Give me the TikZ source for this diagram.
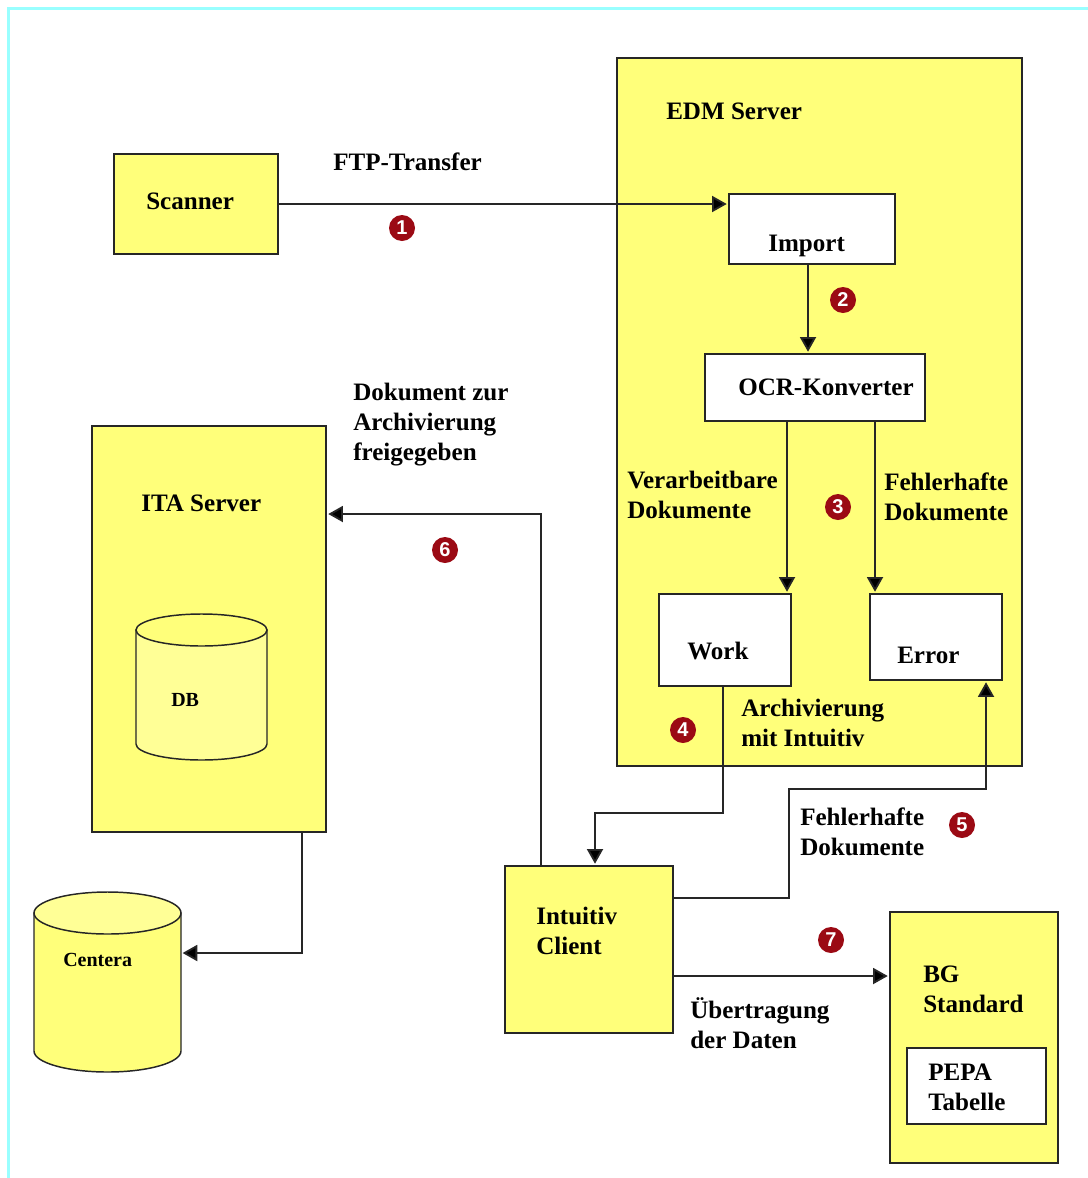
\documentclass[tikz,border=0pt]{standalone}
\usepackage{fontspec}
\setmainfont{Liberation Serif}
\newfontfamily\numfont{Liberation Sans}
\usetikzlibrary{arrows.meta}
\definecolor{ylw}{HTML}{FFFF7A}
\definecolor{ylwlt}{HTML}{FFFF96}
\definecolor{ink}{HTML}{262626}
\definecolor{badge}{HTML}{9B0A14}
\definecolor{frame}{HTML}{99FFFF}
\newcommand{\boxat}[6]{\node[#1,minimum width={(#5-#3)*0.75pt},minimum height={(#6-#4)*0.75pt}] (#2) at ({(#3+#5)/2},{(#4+#6)/2}) {};}
\newcommand{\lbl}[4]{\node[txt] (#1) at ({#2},{#3-22.67}) {\rule{0pt}{17pt}#4};}
\newcommand{\smalllbl}[4]{\node[txts] (#1) at ({#2},{#3-18.67}) {\rule{0pt}{14pt}#4};}
\newcommand{\bdg}[4]{\node[numbadge] (#1) at (#2,#3) {#4};}
\newcommand{\cyl}[8]{% name x1 x2 ytop ybot capheight bodyfill capfill
  \path[draw=ink,line width=1.1pt,fill=#7] (#2,{#4+#6/2}) -- (#2,{#5-#6/2}) arc[start angle=180,end angle=360,x radius={(#3-#2)/2*0.75pt},y radius={#6/2*0.75pt}] -- (#3,{#4+#6/2}) -- cycle;
  \path[draw=ink,line width=1.1pt,fill=#8] ({(#2+#3)/2},{#4+#6/2}) ellipse[x radius={(#3-#2)/2*0.75pt},y radius={#6/2*0.75pt}];
  \node[minimum width={(#3-#2)*0.75pt},minimum height={(#5-#4)*0.75pt},inner sep=0pt] (#1) at ({(#2+#3)/2},{(#4+#5)/2}) {};}
\tikzset{
  ybox/.style={draw=ink,line width=1.4pt,fill=ylw,inner sep=0pt},
  wbox/.style={draw=ink,line width=1.4pt,fill=white,inner sep=0pt},
  txt/.style={anchor=north west,inner sep=0pt,align=left,font=\fontsize{18.8pt}{22.5pt}\selectfont\bfseries,text=black},
  txts/.style={anchor=north west,inner sep=0pt,align=left,font=\fontsize{15pt}{18pt}\selectfont\bfseries,text=black},
  numbadge/.style={circle,fill=badge,inner sep=0pt,minimum size=19.5pt,text=white,font=\numfont\fontsize{15pt}{15pt}\selectfont\bfseries},
  conn/.style={draw=ink,line width=1.4pt,-{Triangle[length=11pt,width=12pt,fill=black]},shorten >=1pt},
}
\begin{document}
\begin{tikzpicture}[x=0.75pt,y=-0.75pt]
\useasboundingbox (0,0) rectangle (1088,1178);
\draw[frame,line width=2.2pt] (8.5,1178) -- (8.5,8.5) -- (1088,8.5);
% boxes
\boxat{ybox}{scanner}{114}{154}{278}{254}
\boxat{ybox}{edm}{617}{58}{1022}{766}
\boxat{wbox}{import}{729}{194}{895}{264}
\boxat{wbox}{ocr}{705}{354}{925}{421}
\boxat{wbox}{work}{659}{594}{791}{686}
\boxat{wbox}{error}{870}{594}{1002}{680}
\boxat{ybox}{ita}{92}{426}{326}{832}
\boxat{ybox}{client}{505}{866}{673}{1033}
\boxat{ybox}{bg}{890}{912}{1058}{1163}
\boxat{wbox}{pepa}{907}{1048}{1046}{1124}
\cyl{db}{136}{267}{614}{760}{32}{ylwlt}{ylw}
\cyl{centera}{34}{181}{892}{1072}{42}{ylw}{ylwlt}
% route coordinates
\coordinate (r2) at (808,300);
\coordinate (r3a) at (787,500);
\coordinate (r3b) at (875,500);
\coordinate (r4a) at (723,813);
\coordinate (r4b) at (595,813);
\coordinate (r5a) at (789,898);
\coordinate (r5b) at (986,789);
\coordinate (r6a) at (541,514);
\coordinate (r7) at (780,976);
\coordinate (r8a) at (302,953);
% connectors
\draw[conn] (scanner.east) -- (scanner.east -| import.west);
\draw[conn] (import.south -| r2) -- (ocr.north -| r2);
\draw[conn] (ocr.south -| r3a) -- (work.north -| r3a);
\draw[conn] (ocr.south -| r3b) -- (error.north -| r3b);
\draw[conn] (work.south -| r4a) -- (r4a) -- (r4b) -- (client.north -| r4b);
\draw[conn] (client.east |- r5a) -- (r5a) -- (r5a |- r5b) -- (r5b) -- (error.south -| r5b);
\draw[conn] (client.north -| r6a) -- (r6a) -- (ita.east |- r6a);
\draw[conn] (client.east |- r7) -- (bg.west |- r7);
\draw[conn] (ita.south -| r8a) -- (r8a) -- (centera.east |- r8a);
% labels
\lbl{tscanner}{146}{209}{Scanner}
\lbl{tftp}{333}{170}{FTP-Transfer}
\lbl{tedm}{666}{119}{EDM Server}
\lbl{timport}{768}{251}{Import}
\lbl{tocr}{738}{395}{OCR-Konverter}
\lbl{tverarb}{627}{488}{Verarbeitbare\\Dokumente}
\lbl{tfehl}{884}{490}{Fehlerhafte\\Dokumente}
\lbl{twork}{687}{659}{Work}
\lbl{terror}{897}{663}{Error}
\lbl{tarch}{741}{716}{Archivierung\\mit Intuitiv}
\lbl{tfehl2}{800}{825}{Fehlerhafte\\Dokumente}
\lbl{tdok}{353}{400}{Dokument zur\\Archivierung\\freigegeben}
\lbl{tita}{141}{511}{ITA Server}
\smalllbl{tdb}{171}{706}{DB}
\smalllbl{tcentera}{63}{966}{Centera}
\lbl{tclient}{536}{924}{Intuitiv\\Client}
\lbl{tbg}{923}{982}{BG\\Standard}
\lbl{tpepa}{928}{1080}{PEPA\\Tabelle}
\lbl{tuebertr}{690}{1018}{Übertragung\\der Daten}
% badges
\bdg{b1}{402}{228}{1}
\bdg{b2}{843}{300}{2}
\bdg{b3}{838}{507}{3}
\bdg{b4}{683}{730}{4}
\bdg{b5}{962}{825}{5}
\bdg{b6}{445}{550}{6}
\bdg{b7}{831}{940}{7}
\end{tikzpicture}
\end{document}
